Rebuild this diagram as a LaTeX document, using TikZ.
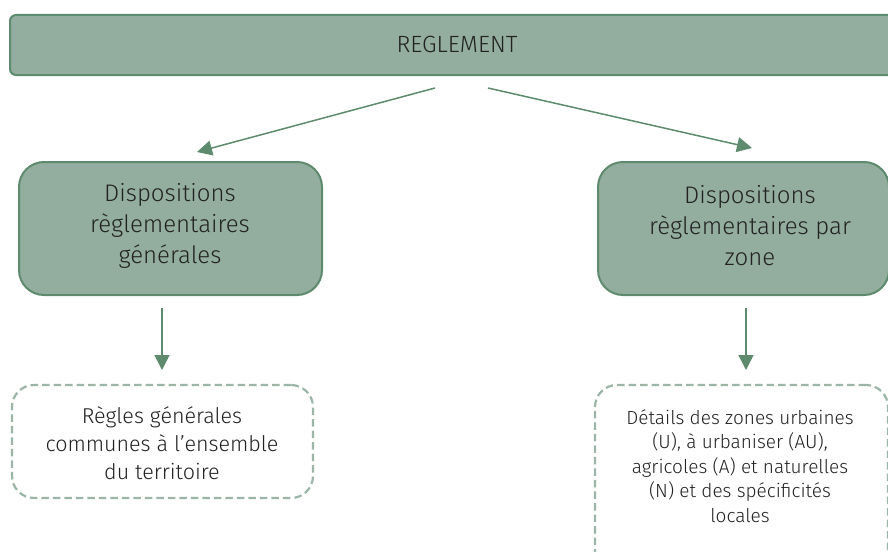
\documentclass[tikz,border=0pt]{standalone}
\usepackage{fontspec}
\setmainfont{Fira Sans}[UprightFont=* Light]
\usetikzlibrary{arrows.meta}
\definecolor{boxfill}{HTML}{93AE9F}
\definecolor{boxline}{HTML}{5E8B6E}
\definecolor{dashline}{HTML}{9BB5A7}
\definecolor{txt}{HTML}{222222}
\tikzset{
  greenbox/.style={draw=boxline, fill=boxfill, line width=2pt, rounded corners=25pt, inner sep=0pt},
  dashbox/.style={draw=dashline, line width=2.2pt, dash pattern=on 7.5pt off 4pt, rounded corners=22pt, inner sep=0pt},
  conn/.style={draw=boxline, line width=1.5pt, -{Triangle[length=15pt,width=15pt]}},
  bigtxt/.style={text=txt, align=center, font=\fontsize{24}{31}\selectfont},
  midtxt/.style={text=txt, align=center, font=\fontsize{21.5}{28}\selectfont},
  smalltxt/.style={text=txt, align=center, font=\fontsize{19}{24.5}\selectfont}
}
\begin{document}
\begin{tikzpicture}[x=1pt,y=-1pt]
\clip (0,0) rectangle (888,551);
\fill[white] (0,0) rectangle (888,551);
% top bar
\node[draw=boxline, fill=boxfill, line width=2pt, rounded corners=6pt, minimum width=892pt, minimum height=60pt, inner sep=0pt] (top) at (456,45) {};
\node[text=txt, font=\fontsize{23.5}{28}\selectfont] (toptxt) at (457,44) {REGLEMENT};
% green boxes
\node[greenbox, minimum width=303pt, minimum height=133pt] (lbox) at (170.5,228.5) {};
\node[bigtxt] (ltxt) at (170,226) {Dispositions\\règlementaires\\générales};
\node[greenbox, minimum width=291pt, minimum height=133pt] (rbox) at (743.5,228.5) {};
\node[bigtxt] (rtxt) at (750,226) {Dispositions\\règlementaires par\\zone};
% dashed boxes
\node[dashbox, minimum width=301pt, minimum height=113pt] (ldash) at (162.5,441.5) {};
\node[midtxt] (ldtxt) at (162,443) {Règles générales\\communes à l’ensemble\\du territoire};
\node[dashbox, minimum width=293pt, minimum height=200pt] (rdash) at (741.5,485) {};
\node[smalltxt] (rdtxt) at (740,466) {Détails des zones urbaines\\(U), à urbaniser (AU),\\agricoles (A) et naturelles\\(N) et des spécificités\\locales};
% connectors
\coordinate (s1) at (435,88);
\coordinate (e1) at (197,152);
\coordinate (s2) at (488,88);
\coordinate (e2) at (752,148);
\draw[conn] (s1) -- (e1);
\draw[conn] (s2) -- (e2);
\coordinate (d1s) at (162,308);
\coordinate (d1e) at (162,370);
\draw[conn] (d1s) -- (d1e);
\coordinate (d2s) at (746,308);
\coordinate (d2e) at (746,370);
\draw[conn] (d2s) -- (d2e);
\end{tikzpicture}
\end{document}
